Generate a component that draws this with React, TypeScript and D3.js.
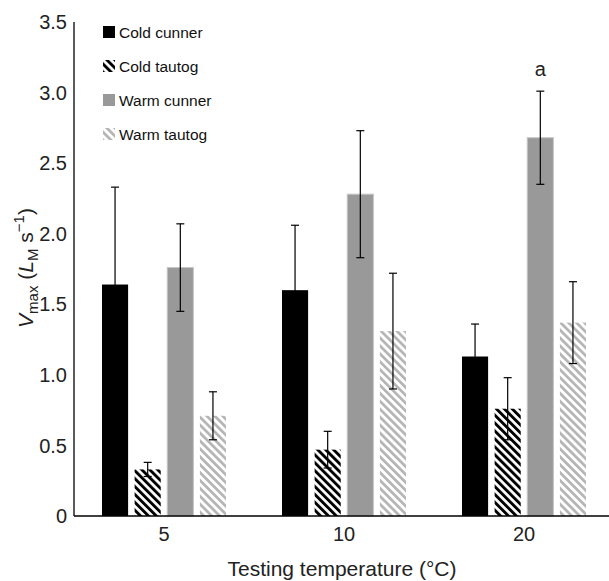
import React from 'react';
import * as d3 from 'd3';

// data
const temperatures = ['5', '10', '20'];
const seriesNames = ['Cold cunner', 'Cold tautog', 'Warm cunner', 'Warm tautog'];
const coldCunner = [1.64, 1.6, 1.13];
const coldCunnerErr = [0.69, 0.46, 0.23];
const coldTautog = [0.33, 0.47, 0.76];
const coldTautogErr = [0.05, 0.13, 0.22];
const warmCunner = [1.76, 2.28, 2.68];
const warmCunnerErr = [0.31, 0.45, 0.33];
const warmTautog = [0.71, 1.31, 1.37];
const warmTautogErr = [0.17, 0.41, 0.29];
const yTicks = [0, 0.5, 1, 1.5, 2, 2.5, 3, 3.5];
const annotations = [{ temp: '20', series: 'Warm cunner', text: 'a' }];

const W = 609;
const H = 581;
const margin = { top: 22, right: -5, bottom: 65, left: 74 };
const font = '"Liberation Sans", Arial, sans-serif';

const fills: Record<string, string> = {
  'Cold cunner': '#000',
  'Cold tautog': 'url(#hatchBlack)',
  'Warm cunner': '#999',
  'Warm tautog': 'url(#hatchGray)',
};

const App = () => {
  const values = [coldCunner, coldTautog, warmCunner, warmTautog];
  const errors = [coldCunnerErr, coldTautogErr, warmCunnerErr, warmTautogErr];

  const y = d3.scaleLinear().domain([0, 3.5]).range([H - margin.bottom, margin.top]);
  const x0 = d3.scaleBand().domain(temperatures).range([margin.left, W - margin.right]);
  const x1 = d3.scaleBand().domain(seriesNames).range([28, 152]).paddingInner(0.2);
  const bw = x1.bandwidth();
  const fmt = (d: number) => (d === 0 ? '0' : d3.format('.1f')(d));

  const legendY = d3.scalePoint().domain(seriesNames).range([32, 134]);

  return (
    <svg width={W} height={H} style={{ position: 'absolute', left: 0, top: 0, background: '#fff' }} fontFamily={font}>
      <defs>
        <pattern id="hatchBlack" width="5.6" height="5.6" patternUnits="userSpaceOnUse" patternTransform="rotate(-45)">
          <rect width="5.6" height="5.6" fill="#fff" />
          <rect width="2.9" height="5.6" fill="#000" />
        </pattern>
        <pattern id="hatchGray" width="5.6" height="5.6" patternUnits="userSpaceOnUse" patternTransform="rotate(-45)">
          <rect width="5.6" height="5.6" fill="#fff" />
          <rect width="2.7" height="5.6" fill="#b4b4b4" />
        </pattern>
      </defs>

      {/* bars */}
      {temperatures.map((t, i) => (
        <g key={t} transform={`translate(${x0(t)},0)`}>
          {seriesNames.map((s, j) => {
            const v = values[j][i];
            return (
              <rect
                key={s}
                x={x1(s)}
                y={y(v)}
                width={bw}
                height={y(0) - y(v)}
                fill={fills[s]}
                stroke={s === 'Warm cunner' ? '#c4c4c4' : 'none'}
                strokeWidth={1}
              />
            );
          })}
        </g>
      ))}

      {/* error bars */}
      {temperatures.map((t, i) => (
        <g key={'e' + t} transform={`translate(${x0(t)},0)`} stroke="#000" strokeWidth={1.2}>
          {seriesNames.map((s, j) => {
            const cx = (x1(s) as number) + bw / 2;
            const hi = y(values[j][i] + errors[j][i]);
            const lo = y(values[j][i] - errors[j][i]);
            return (
              <g key={s}>
                <line x1={cx} x2={cx} y1={hi} y2={lo} />
                <line x1={cx - 4} x2={cx + 4} y1={hi} y2={hi} />
                <line x1={cx - 4} x2={cx + 4} y1={lo} y2={lo} />
              </g>
            );
          })}
        </g>
      ))}

      {annotations.map((a, k) => {
        const si = seriesNames.indexOf(a.series);
        const ti = temperatures.indexOf(a.temp);
        return (
          <text
            key={k}
            x={(x0(a.temp) as number) + (x1(a.series) as number) + bw / 2}
            y={y(values[si][ti] + errors[si][ti]) - 15}
            textAnchor="middle"
            fontSize={20}
            fill="#222"
          >
            {a.text}
          </text>
        );
      })}

      {/* axes */}
      <line x1={margin.left} x2={margin.left} y1={y(3.5)} y2={y(0)} stroke="#000" strokeWidth={1.3} />
      <line x1={margin.left} x2={W} y1={y(0)} y2={y(0)} stroke="#000" strokeWidth={1.3} />
      {yTicks.map((d) => (
        <text key={d} x={margin.left - 7} y={y(d)} dy="0.36em" textAnchor="end" fontSize={20} fill="#222">
          {fmt(d)}
        </text>
      ))}
      {temperatures.map((t) => (
        <text key={t} x={(x0(t) as number) + x0.bandwidth() / 2} y={541} textAnchor="middle" fontSize={20} fill="#222">
          {t}
        </text>
      ))}
      <text x={342} y={576} textAnchor="middle" fontSize={21} fill="#222">
        Testing temperature (°C)
      </text>
      <text transform="translate(33,268) rotate(-90)" textAnchor="middle" fontSize={21} fill="#222">
        <tspan fontStyle="italic">V</tspan>
        <tspan fontSize={15} dy={5}>max</tspan>
        <tspan dy={-5}> (</tspan>
        <tspan fontStyle="italic">L</tspan>
        <tspan fontSize={15} dy={5}>M</tspan>
        <tspan dy={-5}> s</tspan>
        <tspan fontSize={15} dy={-9}>−1</tspan>
        <tspan dy={9}>)</tspan>
      </text>

      {/* legend */}
      {seriesNames.map((s) => (
        <g key={s} transform={`translate(103,${legendY(s)})`}>
          <rect x={0} y={-6} width={12} height={12} fill={fills[s]} />
          <text x={16} y={0} dy="0.36em" fontSize={15.5} fill="#111">
            {s}
          </text>
        </g>
      ))}
    </svg>
  );
};

export default App;
